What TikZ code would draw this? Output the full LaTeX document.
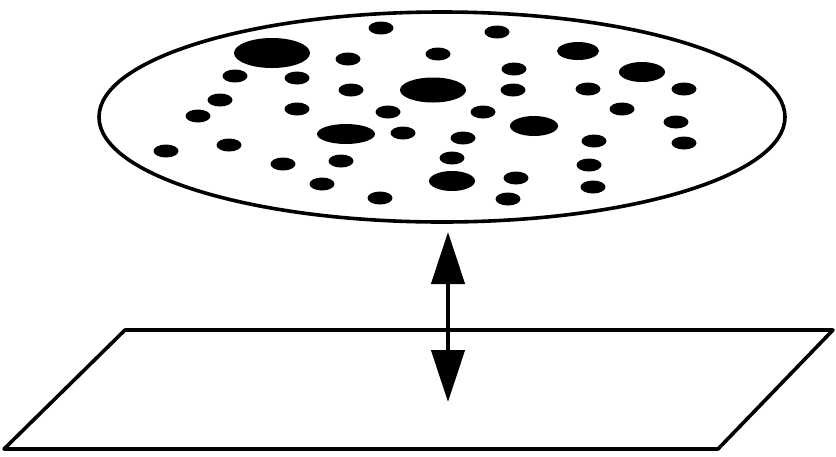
\documentclass[tikz,border=0pt]{standalone}
\usetikzlibrary{arrows.meta}
\begin{document}
\begin{tikzpicture}[x=1pt,y=-1pt,
  dot/.style={fill=black},
  outline/.style={draw=black,line width=3.6pt,line join=round}]
\useasboundingbox (0,0) rectangle (836,456);
% disk
\draw[outline] (442,117) ellipse [x radius=343, y radius=105];
% small dots
\foreach \x/\y in {381/28,497/32,348/59,438/54,235/76,297/78,514/69,351/90,513/90,588/89,684/89,
  220/100,297/109,388/112,483/112,622/109,198/116,403/133,676/122,463/138,594/141,684/143,
  229/145,166/151,341/161,452/158,283/164,589/165,516/178,322/184,593/187,380/198,508/199}
  \fill[dot] (\x,\y) ellipse [x radius=12.5, y radius=6.5];
% medium dots
\fill[dot] (578,51) ellipse [x radius=21, y radius=9];
\fill[dot] (642,72) ellipse [x radius=23, y radius=10];
% large dots
\fill[dot] (272,53) ellipse [x radius=38, y radius=15];
\fill[dot] (433,90) ellipse [x radius=33, y radius=12.5];
\fill[dot] (346,134) ellipse [x radius=29, y radius=10];
\fill[dot] (534,126) ellipse [x radius=24, y radius=10];
\fill[dot] (452,181) ellipse [x radius=23, y radius=10];
% plane
\draw[outline] (125,330) -- (833,330) -- (718,449) -- (4,449) -- cycle;
% arrow
\coordinate (top) at (448,232);
\coordinate (bot) at (448,402);
\draw[line width=4.5pt,{Triangle[length=52pt,width=33pt]}-{Triangle[length=52pt,width=33pt]}] (top) -- (bot);
\end{tikzpicture}
\end{document}
